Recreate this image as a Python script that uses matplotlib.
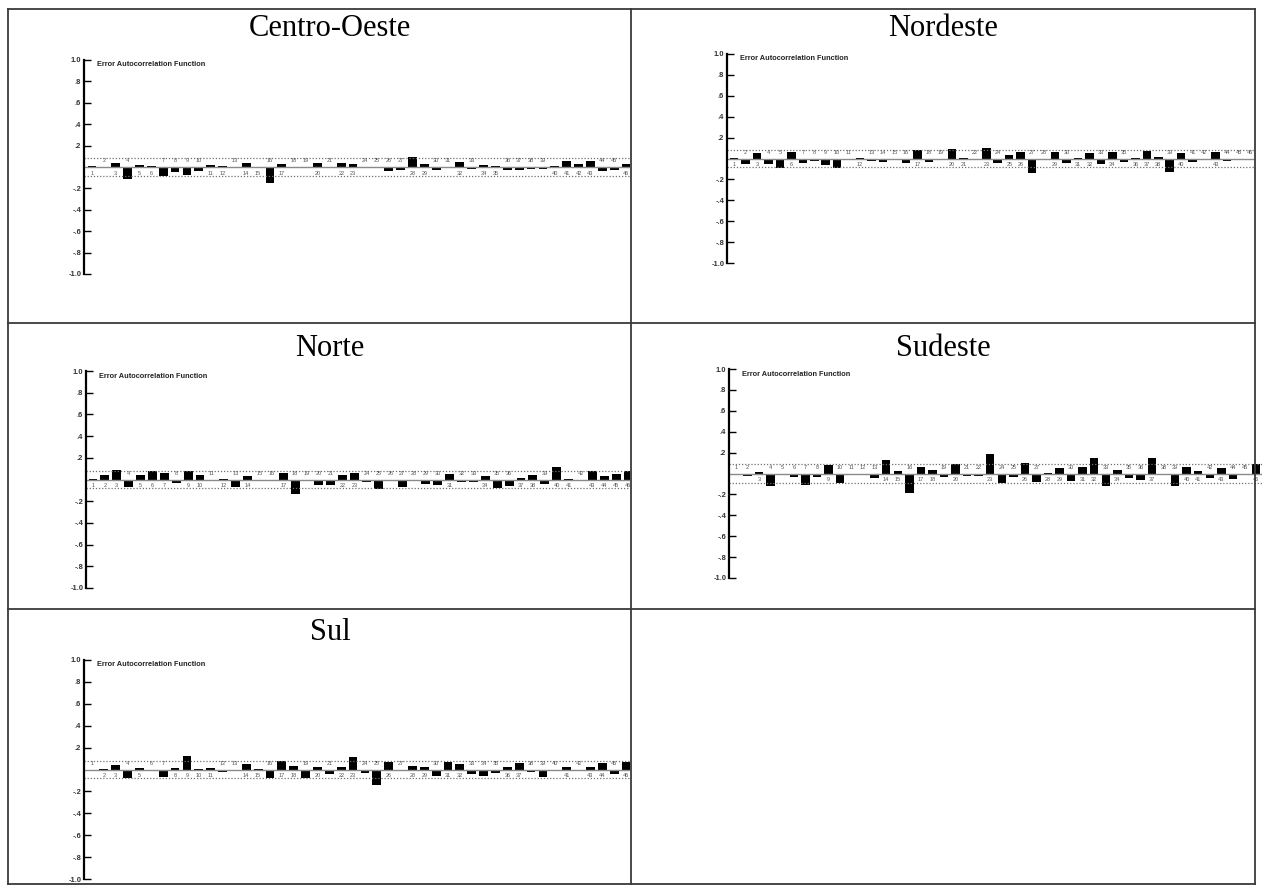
import matplotlib
matplotlib.use("Agg")
import matplotlib.pyplot as plt
from matplotlib.lines import Line2D

W, H = 1262, 891

# lags 1..46 for every region
lags = list(range(1, 47))

centro_oeste = [0.005, -0.005, 0.042, -0.11, 0.018, 0.008, -0.08, -0.045, -0.075, -0.036,
                0.018, 0.01, -0.003, 0.042, 0.004, -0.15, 0.03, -0.005, -0.003, 0.036,
                -0.005, 0.04, 0.025, -0.005, -0.002, -0.035, -0.025, 0.095, 0.025, -0.03,
                -0.003, 0.05, -0.015, 0.015, 0.01, -0.03, -0.025, -0.02, -0.02, 0.005,
                0.06, 0.03, 0.06, -0.04, -0.03, 0.03]

nordeste = [0.005, -0.05, 0.05, -0.05, -0.087, 0.058, -0.04, -0.02, -0.058, -0.087,
            -0.01, 0.005, -0.025, -0.03, -0.002, -0.04, 0.08, -0.03, -0.003, 0.09,
            0.002, -0.002, 0.105, -0.04, 0.032, 0.065, -0.14, -0.003, 0.065, -0.04,
            0.002, 0.05, -0.05, 0.065, -0.03, 0.005, 0.07, 0.013, -0.125, 0.05,
            -0.035, -0.013, 0.058, -0.02, -0.01, -0.003]

norte = [0.006, 0.043, 0.086, -0.07, 0.037, 0.074, 0.062, -0.034, 0.074, 0.037,
         -0.003, 0.006, -0.07, 0.03, -0.003, -0.005, 0.062, -0.13, -0.005, -0.05,
         -0.05, 0.037, 0.058, -0.02, -0.086, -0.003, -0.07, -0.018, -0.04, -0.055,
         0.052, -0.025, -0.025, 0.03, -0.08, -0.062, 0.018, 0.043, -0.04, 0.114,
         0.003, -0.012, 0.074, 0.028, 0.055, 0.074]

sudeste = [-0.013, -0.02, 0.01, -0.12, -0.003, -0.035, -0.113, -0.035, 0.077, -0.09,
           -0.003, -0.016, -0.042, 0.126, 0.026, -0.187, 0.065, 0.03, -0.032, 0.09,
           -0.02, -0.022, 0.19, -0.09, -0.035, 0.103, -0.084, 0.005, 0.052, -0.074,
           0.06, 0.145, -0.12, 0.03, -0.042, -0.058, 0.145, -0.003, -0.116, 0.065,
           0.022, -0.042, 0.052, -0.052, -0.013, 0.087]

sul = [-0.003, 0.003, 0.04, -0.076, 0.015, -0.003, -0.07, 0.015, 0.124, 0.006,
       0.012, -0.027, -0.012, 0.048, 0.004, -0.076, 0.076, 0.036, -0.076, 0.027,
       -0.04, 0.027, 0.11, -0.03, -0.145, 0.073, -0.003, 0.03, 0.024, -0.06,
       0.067, 0.048, -0.04, -0.06, -0.03, 0.027, 0.055, -0.027, -0.064, -0.003,
       0.027, -0.018, 0.024, 0.055, -0.045, 0.067]

y_ticks = [1.0, 0.8, 0.6, 0.4, 0.2, -0.2, -0.4, -0.6, -0.8, -1.0]
y_tick_labels = ['1.0', '.8', '.6', '.4', '.2', '-.2', '-.4', '-.6', '-.8', '-1.0']

fig = plt.figure(figsize=(W / 100, H / 100), dpi=100)
fig.patch.set_facecolor('white')


def px_line(x0, y0, x1, y1):
    fig.add_artist(Line2D([x0 / W, x1 / W], [1 - y0 / H, 1 - y1 / H],
                          color='#3a3a3a', lw=1.3))


# table grid
px_line(8, 9, 1255, 9)
px_line(8, 323, 1255, 323)
px_line(8, 609, 1255, 609)
px_line(8, 884, 1255, 884)
px_line(8, 9, 8, 884)
px_line(631, 9, 631, 884)
px_line(1255, 9, 1255, 884)


def acf_panel(name, vals, cx, ty, axis_x, lag1_x, lag46_x, right_x, y_top, y_bot, band):
    fig.text(cx / W, 1 - ty / H, name, ha='center', va='center',
             fontsize=22, family='Liberation Serif')
    ax = fig.add_axes([axis_x / W, 1 - y_bot / H, (right_x - axis_x) / W, (y_bot - y_top) / H])
    step = (lag46_x - lag1_x) / 45
    ax.set_xlim(1 - (lag1_x - axis_x) / step, 46 + (right_x - lag46_x) / step)
    ax.set_ylim(-1, 1)
    ax.patch.set_alpha(0)
    for s in ['top', 'right', 'bottom']:
        ax.spines[s].set_visible(False)
    ax.spines['left'].set_linewidth(1.6)
    ax.set_xticks([])
    ax.set_yticks(y_ticks)
    ax.set_yticklabels(y_tick_labels)
    ax.tick_params(axis='y', direction='in', length=5, width=1, pad=2,
                   labelsize=5.4)
    for t in ax.get_yticklabels():
        t.set_fontweight('bold')
        t.set_family('Liberation Sans')
        t.set_color('#333333')

    ax.axhline(0, color='#8a8a8a', lw=1.0)
    ax.axhline(band, color='#707070', lw=0.9, ls=(0, (1, 1.5)))
    ax.axhline(-band, color='#707070', lw=0.9, ls=(0, (1, 1.5)))
    ax.bar(lags, vals, width=0.74, color='black')
    for lag, v in zip(lags, vals):
        ax.text(lag, -0.058 if v >= 0 else 0.058, str(lag), ha='center', va='center',
                fontsize=4.0, color='#555555', family='Liberation Sans')
    fig.text((axis_x + 13) / W, 1 - (y_top + 5) / H, 'Error Autocorrelation Function',
             ha='left', va='center', fontsize=5.3, fontweight='bold',
             family='Liberation Sans', color='#222222')
    return ax


acf_panel('Centro-Oeste', centro_oeste, 330, 29, 84, 92, 626, 630, 60, 274, 0.088)
acf_panel('Nordeste', nordeste, 943, 29, 727, 734, 1250, 1254, 54, 263, 0.085)
acf_panel('Norte', norte, 330, 348, 86, 93, 628, 630, 371, 588, 0.082)
acf_panel('Sudeste', sudeste, 943, 348, 729, 736, 1256, 1262, 369, 578, 0.088)
acf_panel('Sul', sul, 330, 633, 84, 92, 626, 630, 660, 879, 0.082)

fig.savefig('out.png', dpi=100, facecolor='white')
